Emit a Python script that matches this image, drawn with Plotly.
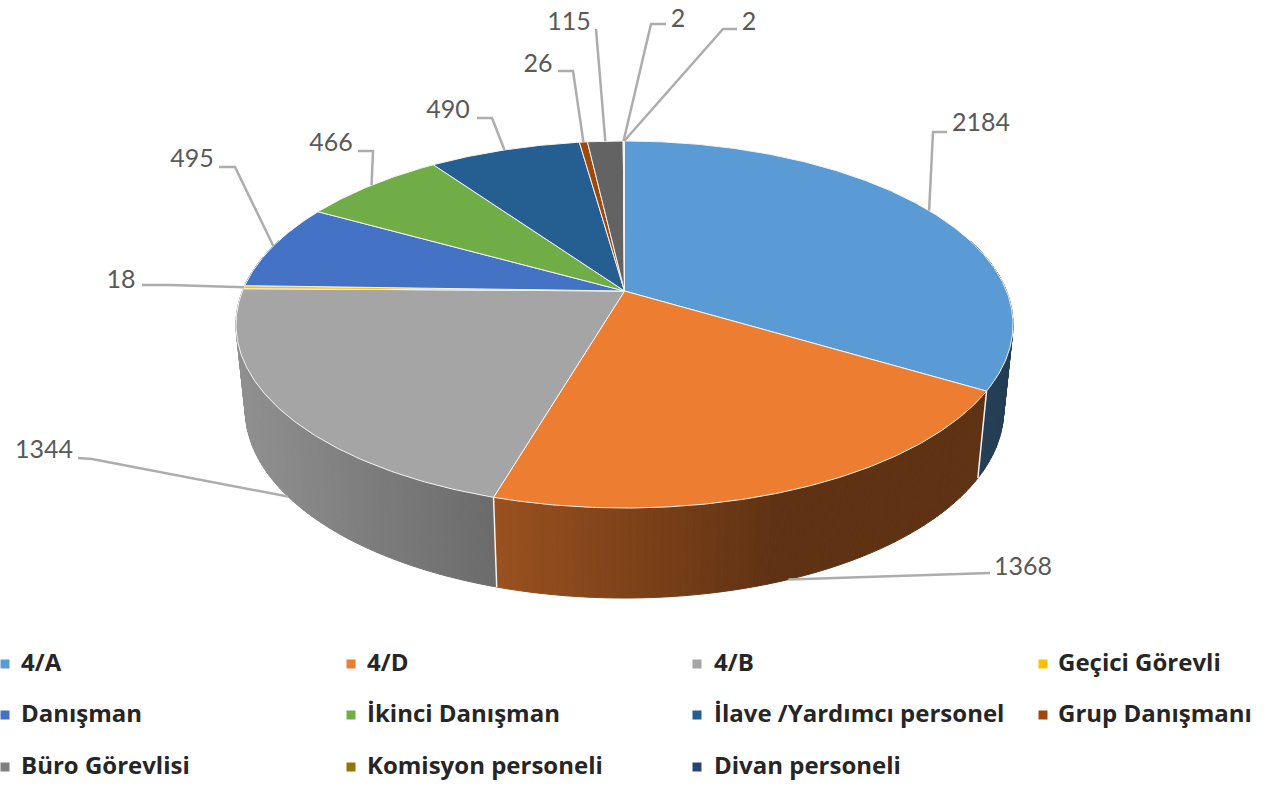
import numpy as np
import plotly.graph_objects as go

categories = ["4/A", "4/D", "4/B", "Geçici Görevli", "Danışman", "İkinci Danışman",
              "İlave /Yardımcı personel", "Grup Danışmanı", "Büro Görevlisi",
              "Komisyon personeli", "Divan personeli"]
values = [2184, 1368, 1344, 18, 495, 466, 490, 26, 115, 2, 2]
colors = ["#5B9BD5", "#ED7D31", "#A5A5A5", "#FFC000", "#4472C4", "#70AD47",
          "#255E91", "#9E480E", "#636363", "#997300", "#264478"]
legend_colors = colors[:8] + ["#7F7F7F"] + colors[9:]

# Tilted-disc projection of the pie, in page pixels
CX, CY = 624.5, 291.0
RX, RY, PERSP = 382.0, 177.4, 0.1826
BASE_X_SCALE, BASE_Y_SCALE, BASE_Y_REF, BASE_Y_OFF = 0.976, 1.0256, 391.0, 478.0

# Leader routing: bend point, end point, label centre (by category)
label_routes = [
    ((933, 132), (947, 132), (981, 125), "top"),
    ((975, 574), (990, 573), (1023, 569), "base"),
    ((92, 459), (78, 458), (44, 452), "base"),
    ((170, 285), (142, 285), (121, 282), "top"),
    ((235, 167), (219, 167), (192, 161), "top"),
    ((373, 151), (358, 151), (331, 145), "top"),
    ((492, 118), (477, 118), (448, 112), "top"),
    ((573, 71), (558, 71), (538, 66), "top"),
    ((596, 29), (596, 29), (569, 24), "top"),
    ((651, 24), (666, 24), (678, 21), "top"),
    ((723, 29), (737, 29), (749, 24), "top"),
]

legend_col_x = [5, 351, 697, 1043]
legend_text_x = [21, 367, 714, 1058]
legend_row_y = [664, 715, 767]


def top_edge(theta):
    s, t = np.sin(theta), np.cos(theta)
    d = 1 + PERSP * t
    return CX + RX * s / d, CY - RY * t / d


def base_edge(theta):
    x, y = top_edge(theta)
    return CX + BASE_X_SCALE * (x - CX), BASE_Y_OFF + BASE_Y_SCALE * (y - BASE_Y_REF)


def shade(hex_color, x):
    # Side walls darken from left to right, then hold a floor value
    f = float(np.clip(0.65 - 0.00088 * (x - 497), 0.4, 0.92))
    rgb = [int(hex_color[i:i + 2], 16) for i in (1, 3, 5)]
    return "rgb({},{},{})".format(*[int(c * f) for c in rgb])


fig = go.Figure()

fractions = np.array(values, dtype=float) / sum(values)
stops = np.concatenate([[0.0], np.cumsum(fractions)]) * 2 * np.pi
mids = (stops[:-1] + stops[1:]) / 2

# Side walls: thin strips, drawn from the back towards the front
strips = []
for i, color in enumerate(colors):
    n = max(1, int(np.ceil((stops[i + 1] - stops[i]) / np.radians(1.0))))
    edges = np.linspace(stops[i], stops[i + 1], n + 1)
    for a, b in zip(edges[:-1], edges[1:]):
        if np.cos((a + b) / 2) < 0.3:
            strips.append((np.cos((a + b) / 2), a, b, color))
strips.sort(key=lambda item: -item[0])
for _, a, b, color in strips:
    x1, y1 = top_edge(a)
    x2, y2 = top_edge(b)
    x3, y3 = base_edge(b)
    x4, y4 = base_edge(a)
    c = shade(color, (x1 + x2 + x3 + x4) / 4)
    fig.add_trace(go.Scatter(x=[x1, x2, x3, x4, x1], y=[y1, y2, y3, y4, y1],
                             mode="lines", fill="toself", fillcolor=c,
                             line=dict(color=c, width=1), hoverinfo="skip",
                             showlegend=False))

# White seams where front-facing walls meet
for i in range(len(values)):
    theta = stops[i]
    if np.cos(theta) < 0:
        x1, y1 = top_edge(theta)
        x2, y2 = base_edge(theta)
        fig.add_trace(go.Scatter(x=[x1, x2], y=[y1, y2], mode="lines",
                                 line=dict(color="#F2F2F2", width=1.5),
                                 hoverinfo="skip", showlegend=False))

# Top face wedges
for i, (name, value, color) in enumerate(zip(categories, values, colors)):
    n = max(2, int(np.ceil((stops[i + 1] - stops[i]) / np.radians(0.5))))
    arc = np.linspace(stops[i], stops[i + 1], n)
    ax, ay = top_edge(arc)
    fig.add_trace(go.Scatter(x=[CX, *ax, CX], y=[CY, *ay, CY], mode="lines",
                             fill="toself", fillcolor=color,
                             line=dict(color="#F4F4F4", width=1),
                             name=name, text=[str(value)] * (n + 2),
                             hoverinfo="name+text", showlegend=False))

# Leader lines and value labels
for i, (value, route) in enumerate(zip(values, label_routes)):
    bend, end, centre, kind = route
    anchor = base_edge(mids[i]) if kind == "base" else top_edge(mids[i])
    fig.add_trace(go.Scatter(x=[anchor[0], bend[0], end[0]], y=[anchor[1], bend[1], end[1]],
                             mode="lines", line=dict(color="#ADADAD", width=2.5),
                             hoverinfo="skip", showlegend=False))
    fig.add_trace(go.Scatter(x=[centre[0]], y=[centre[1]], mode="text", text=[str(value)],
                             textposition="middle center",
                             textfont=dict(family="Lato", size=25, color="#595959"),
                             hoverinfo="skip", showlegend=False))

# Legend grid
for i, (name, color) in enumerate(zip(categories, legend_colors)):
    col = i % 4
    row = i // 4
    fig.add_trace(go.Scatter(x=[legend_col_x[col]], y=[legend_row_y[row]], mode="markers",
                             marker=dict(symbol="square", size=9, color=color),
                             hoverinfo="skip", showlegend=False))
    fig.add_trace(go.Scatter(x=[legend_text_x[col]], y=[legend_row_y[row] + 1], mode="text",
                             text=[name], textposition="middle right",
                             textfont=dict(family="Open Sans", size=24, color="#262626", weight="bold"),
                             hoverinfo="skip", showlegend=False))

fig.update_layout(
    width=1270, height=785, margin=dict(l=0, r=0, t=0, b=0),
    paper_bgcolor="white", plot_bgcolor="white", showlegend=False,
    xaxis=dict(range=[0, 1270], visible=False, fixedrange=True),
    yaxis=dict(range=[785, 0], visible=False, fixedrange=True),
)
fig.write_html("out.html", config=dict(displayModeBar=False))
